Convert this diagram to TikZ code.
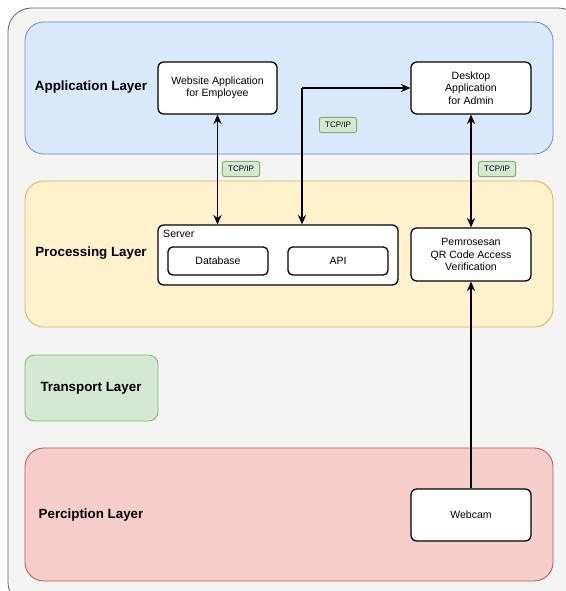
\documentclass[tikz,border=0pt]{standalone}
\usepackage{fontspec}
\setmainfont{Liberation Sans}
\usetikzlibrary{arrows.meta}

\definecolor{appfill}{HTML}{DAE8FC}
\definecolor{appline}{HTML}{6C8EBF}
\definecolor{procfill}{HTML}{FFF2CC}
\definecolor{procline}{HTML}{D6B656}
\definecolor{transfill}{HTML}{D5E8D4}
\definecolor{transline}{HTML}{82B366}
\definecolor{percfill}{HTML}{F8CECC}
\definecolor{percline}{HTML}{B85450}
\definecolor{outerfill}{HTML}{F4F4F4}

\begin{document}
\begin{tikzpicture}[x=0.03cm,y=-0.03cm,>={Stealth[length=8pt,width=7pt]},
  layer/.style={draw,rounded corners=16pt,line width=0.7pt},
  layer label/.style={font=\bfseries\fontsize{11.4}{13}\selectfont},
  main node/.style={draw,rounded corners=5pt,fill=white,line width=1.1pt,align=center,font=\fontsize{9}{10.5}\selectfont},
  tcp/.style={draw=transline,fill=transfill,rounded corners=2pt,line width=0.8pt,inner xsep=5pt,inner ysep=4pt,font=\fontsize{6.8}{7.5}\selectfont}]

            \useasboundingbox (0,0) rectangle (566,591);
            \clip (0,0) rectangle (566,591);
            \draw[fill=outerfill,draw=black!60,rounded corners=20pt,line width=0.7pt] (8,8) rectangle (582,606);

            % layers
            \draw[layer,fill=appfill,draw=appline] (25,22) rectangle (553,154);
            \draw[layer,fill=procfill,draw=procline] (25,181) rectangle (553,327);
            \draw[layer,fill=transfill,draw=transline,rounded corners=8pt] (25,355) rectangle (158,421);
            \draw[layer,fill=percfill,draw=percline] (25,448) rectangle (553,581);

            \node[layer label] (applabel) at (91,87) {Application Layer};
            \node[layer label] (proclabel) at (91,253) {Processing Layer};
            \node[layer label] (translabel) at (91,388) {Transport Layer};
            \node[layer label] (perclabel) at (91,515) {Perciption Layer};

            % nodes
            \node[main node,minimum width=119*0.03cm,minimum height=52*0.03cm] (web) at (217.5,88) {Website Application\\for Employee};
            \node[main node,minimum width=120*0.03cm,minimum height=52*0.03cm] (desktop) at (471,88) {Desktop\\Application\\for Admin};
            \node[main node,minimum width=240*0.03cm,minimum height=60*0.03cm] (server) at (278,255) {};
            \node[anchor=north west,inner sep=0pt,font=\fontsize{9}{10.5}\selectfont] (serverlabel) at (163,230) {Server};
            \node[main node,minimum width=100*0.03cm,minimum height=28*0.03cm,rounded corners=4pt] (db) at (218,261) {Database};
            \node[main node,minimum width=100*0.03cm,minimum height=28*0.03cm,rounded corners=4pt] (api) at (338,261) {API};
            \node[main node,minimum width=120*0.03cm,minimum height=53*0.03cm] (qr) at (471,254.5) {Pemrosesan\\QR Code Access\\Verification};
            \node[main node,minimum width=120*0.03cm,minimum height=52*0.03cm] (webcam) at (471,515) {Webcam};

            \coordinate (bend) at (302,88);

            % connections
            \draw[<->,line width=0.9pt] (web.south) -- (web.south |- server.north);
            \draw[->,line width=0.9pt] (bend) -- (desktop.west);
            \draw[->,line width=0.9pt] (bend) -- (bend |- server.north);
            \draw[<->,line width=0.9pt] (desktop.south) -- (qr.north);
            \draw[->,line width=0.9pt] (webcam.north) -- (qr.south);

            % tcp/ip labels
            \node[tcp] (tcpa) at (338,125) {TCP/IP};
            \node[tcp] (tcpb) at (241,169) {TCP/IP};
            \node[tcp] (tcpc) at (497,169) {TCP/IP};

        \end{tikzpicture}
\end{document}
